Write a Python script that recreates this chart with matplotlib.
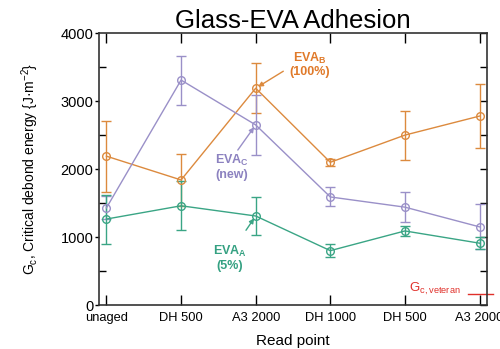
import matplotlib
matplotlib.use("Agg")
import matplotlib.pyplot as plt
import numpy as np

plt.rcParams['font.family'] = ['Liberation Sans', 'DejaVu Sans']
plt.rcParams['mathtext.fontset'] = 'custom'
plt.rcParams['mathtext.rm'] = 'Liberation Sans'
plt.rcParams['mathtext.bf'] = 'Liberation Sans:bold'

categories = ["unaged", "DH 500", "A3 2000", "DH 1000", "DH 500", "A3 2000"]

eva_b = [2190, 1840, 3190, 2100, 2500, 2780]
eva_b_err = [520, 380, 370, 50, 360, 470]

eva_c = [1430, 3310, 2650, 1590, 1440, 1150]
eva_c_err = [170, 360, 440, 140, 220, 330]

eva_a = [1265, 1460, 1310, 800, 1090, 910]
eva_a_err = [360, 360, 280, 95, 80, 90]

gc_veteran = 160

c_b = "#DC8A3E"
c_c = "#9A90C8"
c_a = "#3AA585"
t_b = "#E07A2A"
t_c = "#8C82C0"
t_a = "#35A182"
c_red = "#E0302A"

fig = plt.figure(figsize=(5.0, 3.49), dpi=100)
ax = fig.add_axes([0.198, 0.126, 0.776, 0.779])

x = np.arange(len(categories))
for y, e, c in [(eva_b, eva_b_err, c_b), (eva_c, eva_c_err, c_c), (eva_a, eva_a_err, c_a)]:
    ax.errorbar(x, y, yerr=e, color=c, lw=1.0, elinewidth=1.0, capsize=3.5,
                marker='o', ms=5.5, mfc='none', mec=c, mew=1.0)

ax.set_xlim(-0.1, 5.1)
ax.set_ylim(0, 4000)
ax.set_xticks(x)
ax.set_xticklabels(categories, fontsize=9.3)
ax.set_yticks([0, 1000, 2000, 3000, 4000])
ax.set_yticks([500, 1500, 2500, 3500], minor=True)
ax.tick_params(axis='y', which='major', direction='out', length=3, width=1, labelsize=10.5, pad=1)
ax.tick_params(axis='y', which='minor', direction='in', length=5, width=1)
ax.tick_params(axis='x', which='major', direction='in', length=7, width=1, top=True, pad=5)

sec = ax.secondary_yaxis('right')
sec.set_yticks([0, 1000, 2000, 3000, 4000])
sec.set_yticks([500, 1500, 2500, 3500], minor=True)
sec.tick_params(which='both', direction='in', length=5, width=1, labelright=False)
sec.spines['right'].set_visible(False)

for s in ax.spines.values():
    s.set_color('#333333')
    s.set_linewidth(1.2)

ax.set_title("Glass-EVA Adhesion", fontsize=18.5, pad=4)
ax.set_ylabel(r"G$_\mathregular{c}$, Critical debond energy {J·m$^\mathregular{-2}$}", fontsize=10, labelpad=14)
ax.set_xlabel("Read point", fontsize=11, loc='center', labelpad=7)

# annotations
ax.text(2.73, 3540, r"EVA$_\mathbf{B}$" + "\n(100%)", color=t_b, fontsize=9, fontweight='bold',
        ha='center', va='center', linespacing=1.1)
ax.annotate("", xy=(x[2], eva_b[2]), xytext=(2.37, 3440),
            arrowprops=dict(arrowstyle='-|>', color=c_b, lw=1.0, mutation_scale=7, shrinkA=0, shrinkB=2))

ax.text(1.68, 2030, r"EVA$_\mathbf{C}$" + "\n(new)", color=t_c, fontsize=9, fontweight='bold',
        ha='center', va='center', linespacing=1.1)
ax.annotate("", xy=(x[2], eva_c[2]), xytext=(1.76, 2280),
            arrowprops=dict(arrowstyle='-|>', color=c_c, lw=1.0, mutation_scale=7, shrinkA=0, shrinkB=2))

ax.text(1.65, 690, r"EVA$_\mathbf{A}$" + "\n(5%)", color=t_a, fontsize=9, fontweight='bold',
        ha='center', va='center', linespacing=1.1)
ax.annotate("", xy=(x[2], eva_a[2]), xytext=(1.87, 1100),
            arrowprops=dict(arrowstyle='-|>', color=c_a, lw=1.0, mutation_scale=7, shrinkA=0, shrinkB=2))

ax.plot([4.85, 5.18], [gc_veteran, gc_veteran], color=c_red, lw=1.0, clip_on=False)
ax.text(4.75, 230, r"G$_\mathregular{c,veteran}$", color=c_red, fontsize=9.5, ha='right', va='center')

fig.savefig("out.png", dpi=100)
